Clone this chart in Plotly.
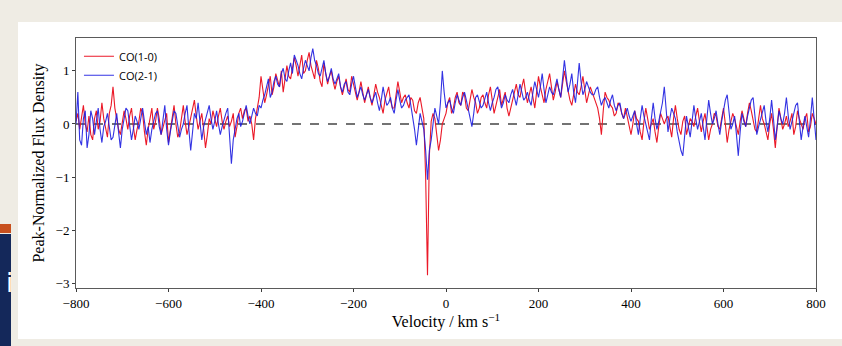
import plotly.graph_objects as go

# velocity channels (km/s), 4 km/s spacing
velocity = [-800 + 4 * i for i in range(401)]

co10 = [
    0.05, 0.2, -0.1, 0.1, 0.35, 0.0, -0.15, 0.15, -0.2, -0.3, 0.1, 0.25, -0.1, 0.05, 0.4, 0.1, -0.05, -0.25, 0.2, 0.35,
    0.7, 0.3, 0.1, -0.1, -0.2, 0.05, 0.25, 0.1, -0.1, 0.15, 0.3, -0.05, -0.3, -0.1, 0.05, 0.3, 0.2, -0.15, -0.4, -0.1,
    0.15, 0.3, -0.1, 0.05, 0.3, 0.1, -0.2, -0.05, 0.1, 0.2, -0.35, -0.1, 0.2, 0.35, 0.0, -0.25, -0.15, 0.1, 0.35, 0.05,
    -0.2, -0.05, 0.1, 0.3, 0.45, 0.15, -0.1, 0.05, 0.2, -0.1, -0.45, -0.2, 0.1, 0.0, 0.25, 0.1, -0.05, 0.15, 0.3, 0.05,
    -0.1, 0.05, 0.15, -0.05, 0.05, 0.2, -0.25, -0.05, 0.2, 0.3, 0.1, 0.25, 0.3, 0.05, 0.15, 0.0, -0.3, 0.1, 0.35, 0.5,
    0.9, 0.6, 0.4, 0.55, 0.75, 0.9, 0.55, 0.7, 0.95, 0.8, 0.7, 1.0, 0.6, 0.85, 1.1, 0.9, 0.85, 1.05, 1.25, 1.1,
    0.9, 1.1, 1.3, 0.95, 1.0, 1.2, 1.35, 1.1, 0.95, 0.85, 1.2, 1.05, 0.8, 0.7, 1.15, 0.95, 0.75, 0.9, 1.0, 0.8,
    0.65, 0.8, 0.9, 0.7, 0.55, 0.7, 0.85, 0.65, 0.6, 0.9, 0.75, 0.55, 0.45, 0.6, 0.8, 0.6, 0.4, 0.55, 0.7, 0.5,
    0.35, 0.55, 0.75, 0.6, 0.5, 0.35, 0.2, 0.45, 0.6, 0.7, 0.45, 0.3, 0.3, 0.55, 0.8, 0.6, 0.4, 0.5, 0.55, 0.4,
    0.3, 0.5, 0.45, 0.25, 0.2, 0.4, 0.5, 0.3, 0.1, -1.0, -2.85, -0.6, 0.05, 0.2, 0.1, -0.2, -0.5, -0.3, 0.0, 0.1,
    0.2, 0.4, 0.5, 0.2, 0.3, 0.5, 0.6, 0.4, 0.35, 0.6, 0.55, 0.3, 0.25, 0.45, 0.65, 0.5, 0.4, 0.2, 0.3, 0.5,
    0.55, 0.4, 0.3, 0.55, 0.7, 0.45, 0.2, 0.35, 0.5, 0.65, 0.35, 0.5, 0.6, 0.3, 0.15, 0.3, 0.45, 0.6, 0.75, 0.55,
    0.5, 0.7, 0.85, 0.6, 0.4, 0.55, 0.7, 0.5, 0.3, 0.6, 0.9, 0.7, 0.55, 0.4, 0.65, 0.8, 0.95, 0.7, 0.45, 0.6,
    0.8, 0.65, 0.5, 0.75, 1.0, 0.8, 0.6, 0.45, 0.35, 0.55, 0.75, 0.6, 0.55, 0.7, 0.9, 0.65, 0.4, 0.55, 0.7, 0.6,
    0.5, 0.4, 0.3, 0.1, -0.2, 0.25, 0.6, 0.5, 0.45, 0.35, 0.3, 0.15, 0.2, 0.4, 0.35, 0.2, 0.1, 0.3, 0.15, -0.05,
    -0.2, 0.0, 0.25, 0.1, 0.05, -0.15, -0.3, 0.05, 0.3, 0.1, -0.1, 0.0, 0.1, -0.15, -0.35, -0.05, 0.2, 0.1, 0.0, 0.1,
    0.15, -0.05, -0.25, 0.1, 0.35, 0.1, -0.1, -0.2, 0.05, 0.15, -0.2, -0.05, 0.1, 0.05, -0.05, 0.15, 0.3, 0.05, -0.15, 0.05,
    0.2, -0.05, -0.3, -0.1, 0.0, 0.2, 0.15, -0.05, -0.1, 0.1, 0.3, 0.0, -0.35, -0.1, 0.05, 0.2, 0.1, -0.05, -0.2, 0.05,
    0.25, 0.1, -0.05, 0.2, 0.4, 0.25, 0.1, -0.1, -0.15, 0.15, 0.35, 0.1, 0.0, -0.15, -0.3, 0.0, 0.2, -0.1, -0.45, -0.05,
    0.3, 0.1, -0.1, 0.0, 0.15, -0.05, 0.05, 0.2, -0.2, -0.05, 0.25, 0.1, 0.0, -0.1, 0.1, 0.2, -0.15, -0.05, 0.2, 0.1,
    0.0,
]

co21 = [
    0.0, 0.6, -0.3, -0.4, 0.1, 0.25, -0.45, -0.2, 0.25, 0.1, -0.2, 0.05, 0.3, -0.1, -0.35, -0.05, 0.05, 0.2, -0.1, -0.3,
    -0.25, 0.0, 0.2, -0.15, -0.45, -0.1, 0.1, 0.3, 0.25, -0.05, -0.3, -0.1, 0.15, 0.05, -0.1, 0.1, 0.3, 0.05, -0.2, -0.05,
    -0.35, -0.1, 0.05, 0.2, 0.25, -0.05, -0.2, 0.1, 0.35, -0.1, -0.4, -0.15, 0.1, 0.25, 0.2, -0.05, -0.25, -0.1, 0.0, 0.2,
    0.35, -0.1, -0.5, -0.15, 0.2, 0.1, 0.4, 0.05, -0.3, -0.05, 0.1, 0.2, 0.35, 0.1, -0.1, 0.05, 0.25, 0.0, -0.2, -0.05,
    0.1, 0.2, 0.3, -0.2, -0.75, -0.3, -0.1, 0.1, 0.2, -0.05, 0.05, 0.2, 0.35, 0.15, 0.0, 0.15, 0.3, 0.2, 0.15, 0.35,
    0.3, 0.45, 0.55, 0.7, 0.85, 0.5, 0.6, 0.8, 0.9, 0.75, 0.7, 0.95, 1.05, 0.85, 0.8, 1.0, 1.15, 0.95, 1.3, 1.2,
    1.1, 0.95, 0.85, 1.05, 1.2, 1.1, 1.0, 1.25, 1.42, 1.2, 1.1, 0.95, 0.9, 1.05, 1.2, 0.95, 0.8, 0.9, 1.05, 0.85,
    0.75, 0.85, 0.95, 0.7, 0.6, 0.75, 0.8, 0.6, 0.55, 0.75, 0.9, 0.7, 0.5, 0.6, 0.7, 0.55, 0.45, 0.55, 0.65, 0.5,
    0.4, 0.5, 0.6, 0.4, 0.25, 0.45, 0.7, 0.5, 0.35, 0.4, 0.5, 0.3, 0.2, 0.45, 0.65, 0.45, 0.3, 0.35, 0.45, 0.5,
    0.55, 0.35, 0.15, -0.1, -0.4, -0.05, 0.2, 0.05, -0.1, -0.5, -1.05, -0.5, -0.3, 0.0, 0.3, 0.15, 0.0, 0.4, 1.0, 0.6,
    0.3, 0.4, 0.45, 0.3, 0.2, 0.4, 0.55, 0.45, 0.35, 0.5, 0.6, 0.45, 0.3, 0.1, -0.05, 0.2, 0.5, 0.55, 0.4, 0.3,
    0.35, 0.5, 0.6, 0.4, 0.25, 0.4, 0.5, 0.65, 0.7, 0.5, 0.3, 0.4, 0.55, 0.45, 0.4, 0.55, 0.65, 0.5, 0.35, 0.55,
    0.75, 0.6, 0.45, 0.5, 0.6, 0.45, 0.35, 0.6, 0.8, 0.65, 0.5, 0.7, 0.95, 0.65, 0.4, 0.55, 0.7, 0.6, 0.55, 0.7,
    0.85, 0.65, 0.5, 0.85, 1.2, 0.9, 0.6, 0.75, 0.95, 0.6, 0.4, 0.75, 1.15, 0.8, 0.55, 0.65, 0.8, 0.7, 0.6, 0.55,
    0.55, 0.65, 0.7, 0.5, 0.35, 0.45, 0.5, 0.4, 0.3, 0.45, 0.55, 0.35, 0.25, 0.35, 0.4, 0.2, 0.1, 0.2, 0.3, 0.15,
    0.05, 0.15, 0.25, 0.0, -0.2, 0.1, 0.35, 0.15, 0.0, -0.15, -0.3, 0.1, 0.4, 0.1, -0.1, 0.05, 0.2, 0.4, 0.7, 0.25,
    -0.15, 0.1, 0.3, 0.2, 0.1, -0.15, -0.35, -0.5, -0.6, -0.2, 0.15, -0.05, -0.25, 0.05, 0.35, 0.1, -0.1, 0.05, 0.2, -0.05,
    -0.3, 0.1, 0.45, 0.2, 0.0, 0.1, 0.25, 0.0, -0.2, 0.05, 0.3, 0.45, 0.55, 0.2, -0.1, 0.0, 0.15, -0.2, -0.6, -0.15,
    0.2, 0.05, -0.05, 0.15, 0.3, 0.45, 0.5, 0.15, -0.2, -0.05, 0.1, 0.2, 0.35, 0.05, -0.15, 0.1, 0.45, 0.1, -0.3, -0.05,
    0.25, 0.1, 0.0, 0.2, 0.5, 0.15, -0.1, 0.05, 0.2, 0.35, 0.4, 0.05, -0.3, -0.05, 0.15, -0.05, -0.25, 0.1, 0.5, 0.1,
    -0.3,
]

series_names = ["CO(1-0)", "CO(2-1)"]
series_colors = ["rgb(235,25,40)", "rgb(30,30,225)"]

n = min(len(velocity), len(co10), len(co21))

W, H = 842, 346
L, R, T, B = 76, 26, 38, 58
pw, ph = W - L - R, H - T - B


def px(x):
    return (x - L) / pw


def py(y):
    return (H - B - y) / ph


fig = go.Figure()
fig.add_trace(go.Scatter(x=velocity[:n], y=co10[:n], mode="lines", name=series_names[0],
                         line=dict(color=series_colors[0], width=1.1)))
fig.add_trace(go.Scatter(x=velocity[:n], y=co21[:n], mode="lines", name=series_names[1],
                         line=dict(color=series_colors[1], width=1.1), opacity=0.9))

shapes = [
    dict(type="rect", xref="paper", yref="paper", x0=px(18), x1=px(842), y0=py(339), y1=py(22),
         fillcolor="white", line=dict(width=0), layer="below"),
    dict(type="rect", xref="paper", yref="paper", x0=px(0), x1=px(11), y0=py(346), y1=py(234),
         fillcolor="rgb(20,40,90)", line=dict(width=0), layer="below"),
    dict(type="rect", xref="paper", yref="paper", x0=px(0), x1=px(11), y0=py(233), y1=py(224),
         fillcolor="rgb(200,80,30)", line=dict(width=0), layer="below"),
    dict(type="line", xref="x", yref="y", x0=-800, x1=800, y0=0, y1=0,
         line=dict(color="rgb(70,70,70)", width=1.3, dash="dash"), layer="below"),
]

fig.update_layout(
    width=W, height=H,
    margin=dict(l=L, r=R, t=T, b=B),
    paper_bgcolor="rgb(239,236,228)",
    plot_bgcolor="white",
    shapes=shapes,
    showlegend=True,
    legend=dict(x=0.004, y=0.985, xanchor="left", yanchor="top", bgcolor="rgba(0,0,0,0)",
                font=dict(family="Open Sans", size=11, color="black"), tracegroupgap=0,
                itemwidth=30),
    annotations=[dict(text="i", xref="paper", yref="paper", x=px(4), y=py(300), showarrow=False,
                      font=dict(family="DejaVu Sans", size=26, color="white"))],
)
fig.update_xaxes(range=[-800, 800], dtick=200, showgrid=False, zeroline=False,
                 showline=True, mirror=True, linecolor="rgb(90,90,90)", linewidth=1,
                 ticks="outside", ticklen=3, tickcolor="rgb(60,60,60)",
                 tickfont=dict(family="Liberation Serif", size=13, color="black"),
                 title=dict(text="Velocity / km s<sup>−1</sup>", standoff=2,
                            font=dict(family="Liberation Serif", size=16, color="black")))
fig.update_yaxes(range=[-3.09, 1.62], dtick=1, showgrid=False, zeroline=False,
                 showline=True, mirror=True, linecolor="rgb(90,90,90)", linewidth=1,
                 ticks="outside", ticklen=3, tickcolor="rgb(60,60,60)",
                 tickfont=dict(family="Liberation Serif", size=13, color="black"),
                 title=dict(text="Peak-Normalized Flux Density", standoff=6,
                            font=dict(family="Liberation Serif", size=16, color="black")))

fig.write_html("out.html")
